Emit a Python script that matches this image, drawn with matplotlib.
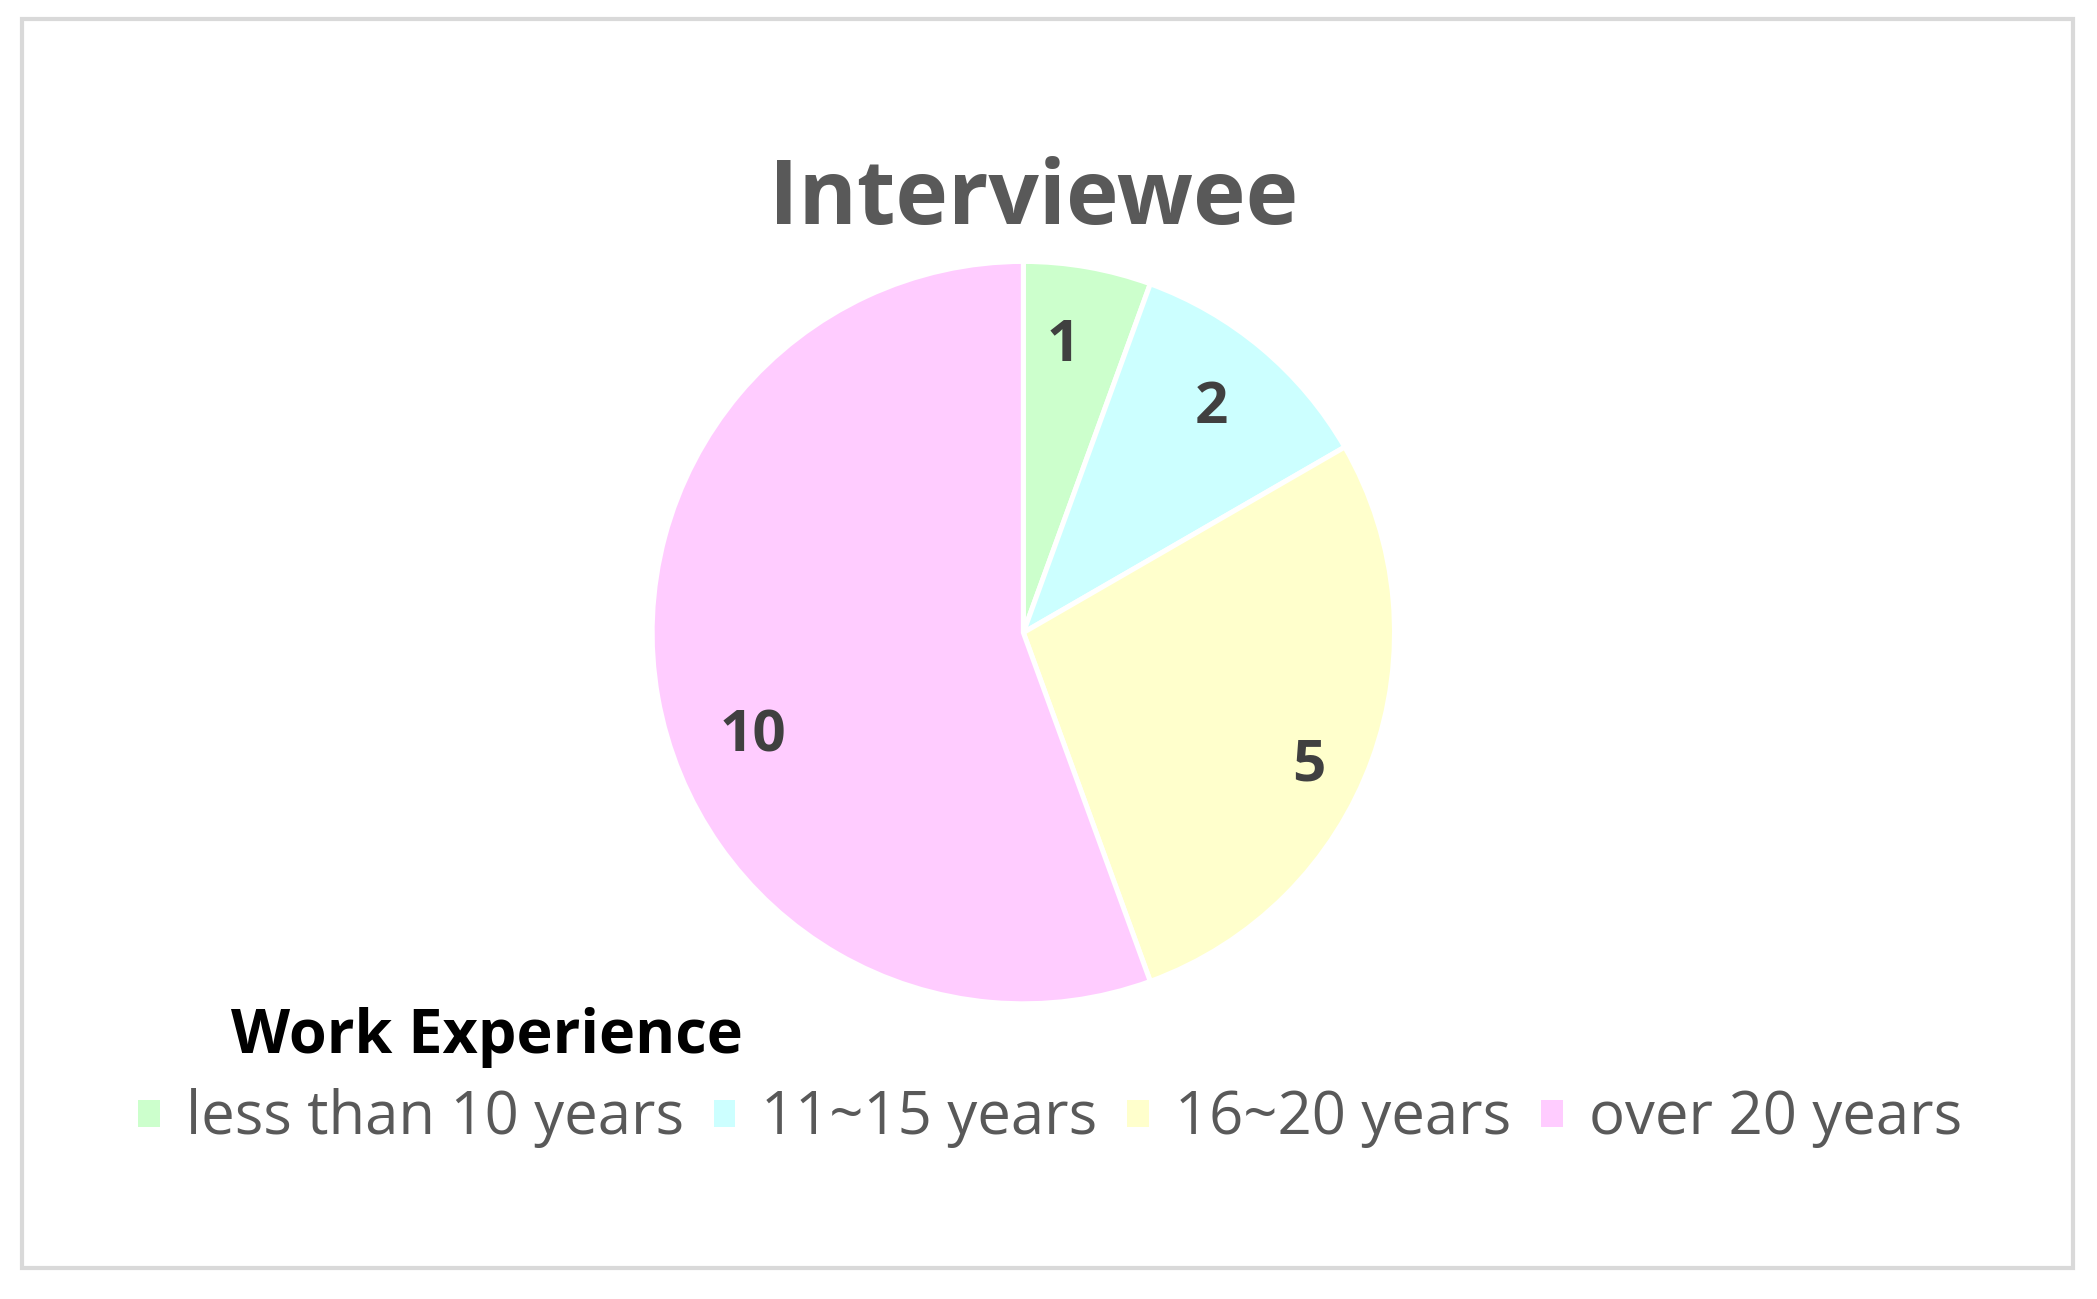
import matplotlib
matplotlib.use("Agg")
import numpy as np
import matplotlib.pyplot as plt
from matplotlib.patches import Rectangle

plt.rcParams["font.family"] = ["Open Sans", "DejaVu Sans"]

categories = ["less than 10 years", "11~15 years", "16~20 years", "over 20 years"]
counts = [1, 2, 5, 10]
colors = ["#CCFFCC", "#CCFFFF", "#FFFFCC", "#FFCCFF"]
total = sum(counts)

# where the data labels sit (angle from 12 o'clock, clockwise; fraction of radius)
label_angles = [8, 40, 115, 249]
label_dists = [0.78, 0.79, 0.85, 0.78]

fig = plt.figure(figsize=(10.485, 6.495), dpi=200)

# outer frame
fig.patches.append(Rectangle((0.0105, 0.024), 0.978, 0.961, transform=fig.transFigure,
                             fill=False, edgecolor="#d9d9d9", linewidth=1.5))

cx, cy = 0.488, 0.513
w, h = 0.354, 0.5715
ax = fig.add_axes([cx - w / 2, cy - h / 2, w, h])
wedges, texts, autotexts = ax.pie(
    counts, colors=colors, startangle=90, counterclock=False, radius=1,
    wedgeprops=dict(edgecolor="white", linewidth=1.8),
    autopct=lambda p: f"{round(p * total / 100):d}", pctdistance=0.8,
    textprops=dict(fontsize=21, fontweight="bold", color="#404040"))
for t, a, d in zip(autotexts, label_angles, label_dists):
    r = np.deg2rad(a)
    t.set_position((d * np.sin(r), d * np.cos(r)))
ax.set_xlim(-1.0, 1.0)
ax.set_ylim(-1.0, 1.0)
ax.set_aspect("equal")
ax.axis("off")

fig.text(0.493, 0.845, "Interviewee", ha="center", va="center",
         fontsize=32, fontweight="bold", color="#595959")

fig.text(0.110, 0.201, "Work Experience", ha="left", va="center",
         fontsize=22, fontweight="bold", color="black")

fig.legend(wedges, categories, loc="center", bbox_to_anchor=(0.5, 0.139), ncol=4,
           frameon=False, fontsize=21.5, labelcolor="#595959",
           handlelength=0.45, handleheight=0.45, handletextpad=0.4,
           columnspacing=0.45)

fig.savefig("out.png", dpi=200, facecolor="white")
